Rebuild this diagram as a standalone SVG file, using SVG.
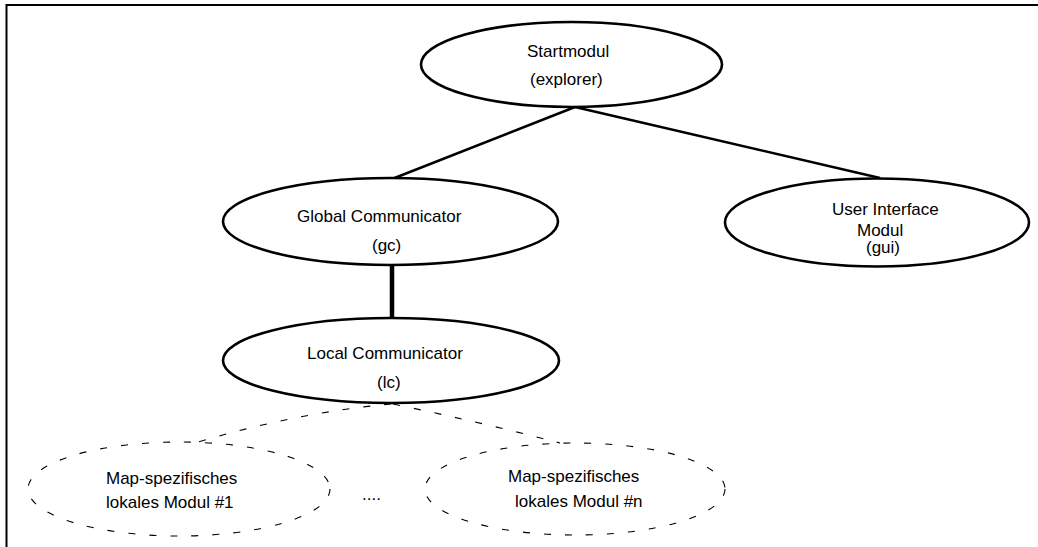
<svg xmlns="http://www.w3.org/2000/svg" width="1038" height="547" viewBox="0 0 1038 547">
  <style>
    .node { fill: #fff; stroke: #000; stroke-width: 2.6; }
    .sub { fill: none; stroke: #000; stroke-width: 1.1; stroke-dasharray: 7 14; }
    .edge { fill: none; stroke: #000; stroke-width: 2.6; }
    .thick { fill: none; stroke: #000; stroke-width: 4.5; }
    .dash { fill: none; stroke: #000; stroke-width: 1.1; stroke-dasharray: 7 14; }
    text { font-family: "Liberation Sans", Arial, sans-serif; font-size: 17px; fill: #000; }
  </style>
  <rect width="1038" height="547" fill="#fff"/>
  <!-- frame: top and left edges only -->
  <path d="M6.5,547 V5 H1038" fill="none" stroke="#000" stroke-width="2"/>

  <g id="connectors">
    <line class="edge" x1="575" y1="107" x2="392" y2="179"/>
    <line class="edge" x1="575" y1="107" x2="880" y2="178"/>
    <line class="thick" x1="392" y1="264" x2="392" y2="319"/>
    <path class="dash" d="M391,404 Q300,412 198,442"/>
    <path class="dash" d="M393,404 Q480,422 560,443"/>
  </g>

  <g id="startmodul">
    <ellipse class="node" cx="571.5" cy="64.5" rx="150.5" ry="42.5"/>
    <text x="527" y="57">Startmodul</text>
    <text x="530" y="85">(explorer)</text>
  </g>

  <g id="global-communicator">
    <ellipse class="node" cx="390.5" cy="221.5" rx="167.5" ry="43.5"/>
    <text x="297" y="222">Global Communicator</text>
    <text x="372" y="251">(gc)</text>
  </g>

  <g id="user-interface">
    <ellipse class="node" cx="877" cy="222.5" rx="152" ry="44"/>
    <text x="832" y="215">User Interface</text>
    <text x="857" y="236">Modul</text>
    <text x="866" y="253">(gui)</text>
  </g>

  <g id="local-communicator">
    <ellipse class="node" cx="391" cy="360.5" rx="168" ry="42.5"/>
    <text x="307" y="359">Local Communicator</text>
    <text x="377" y="388">(lc)</text>
  </g>

  <g id="modul-1">
    <ellipse class="sub" cx="179" cy="489" rx="151" ry="47"/>
    <text x="106" y="484">Map-spezifisches</text>
    <text x="106" y="508">lokales Modul #1</text>
  </g>

  <g id="ellipsis">
    <text x="362" y="500">....</text>
  </g>

  <g id="modul-n">
    <ellipse class="sub" cx="575" cy="489" rx="150" ry="46"/>
    <text x="508" y="482">Map-spezifisches</text>
    <text x="515" y="507">lokales Modul #n</text>
  </g>
</svg>
